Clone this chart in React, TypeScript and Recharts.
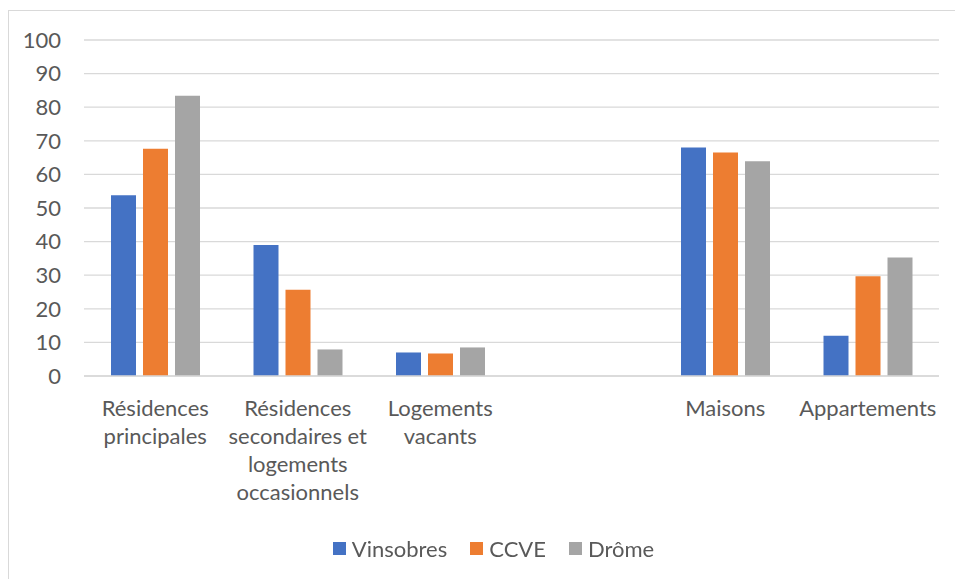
import React from "react";
import { BarChart, Bar, XAxis, YAxis, CartesianGrid, Legend } from "recharts";

const categories = [
  "Résidences principales",
  "Résidences secondaires et logements occasionnels",
  "Logements vacants",
  "",
  "Maisons",
  "Appartements",
];
const tickLines: string[][] = [
  ["Résidences", "principales"],
  ["Résidences", "secondaires et", "logements", "occasionnels"],
  ["Logements", "vacants"],
  [],
  ["Maisons"],
  ["Appartements"],
];
const vinsobres: (number | null)[] = [53.8, 39.0, 7.0, null, 68.0, 12.0];
const ccve: (number | null)[] = [67.6, 25.7, 6.7, null, 66.5, 29.7];
const drome: (number | null)[] = [83.4, 7.9, 8.5, null, 63.9, 35.3];
const yTicks = [0, 10, 20, 30, 40, 50, 60, 70, 80, 90, 100];

const seriesInfo = [
  { key: "Vinsobres", color: "#4472C4" },
  { key: "CCVE", color: "#ED7D31" },
  { key: "Drôme", color: "#A5A5A5" },
];

const data = categories.map((c, i) => ({
  name: c,
  Vinsobres: vinsobres[i],
  CCVE: ccve[i],
  "Drôme": drome[i],
}));

const FONT = "Lato, 'Open Sans', sans-serif";
const TEXT = "#595959";

const XTick = (props: any) => {
  const { x, y, index } = props;
  const lines = tickLines[index] || [];
  return (
    <text
      x={x}
      y={y}
      textAnchor="middle"
      fill={TEXT}
      fontFamily={FONT}
      fontSize={22}
    >
      {lines.map((l, i) => (
        <tspan key={i} x={x} y={y + 39.5 + i * 28}>
          {l}
        </tspan>
      ))}
    </text>
  );
};

const LegendContent = () => (
  <div
    style={{
      height: 30,
      display: "flex",
      justifyContent: "center",
      alignItems: "center",
      paddingLeft: 48,
      fontFamily: FONT,
      fontSize: 22,
      color: TEXT,
    }}
  >
    {seriesInfo.map((s, i) => (
      <div
        key={s.key}
        style={{
          display: "flex",
          alignItems: "center",
          marginLeft: i === 0 ? 0 : 23,
        }}
      >
        <div
          style={{ width: 13, height: 13, background: s.color, marginRight: 6 }}
        />
        <span>{s.key}</span>
      </div>
    ))}
  </div>
);

export default function App() {
  return (
    <div>
      <div
        style={{
          position: "fixed",
          left: 8,
          top: 10,
          width: 1200,
          height: 1200,
          borderLeft: "1px solid #d9d9d9",
          borderTop: "1px solid #d9d9d9",
          background: "#fff",
        }}
      />
      <div style={{ position: "fixed", left: 0, top: 0, width: 955, height: 579 }}>
        <BarChart
          width={955}
          height={579}
          data={data}
          margin={{ top: 40, right: 16, bottom: 16, left: 0 }}
          barSize={25}
          barGap={7}
        >
          <CartesianGrid
            horizontal={true}
            vertical={false}
            stroke="#d9d9d9"
            strokeWidth={1.3}
          />
          <XAxis
            dataKey="name"
            axisLine={{ stroke: "#d9d9d9", strokeWidth: 1.3 }}
            tickLine={false}
            tickSize={0}
            tickMargin={0}
            height={157}
            interval={0}
            tick={<XTick />}
          />
          <YAxis
            domain={[0, 100]}
            ticks={yTicks}
            width={84}
            axisLine={false}
            tickLine={false}
            tickSize={0}
            tickMargin={23}
            interval={0}
            tick={{ fill: TEXT, fontFamily: FONT, fontSize: 22 }}
          />
          <Legend verticalAlign="bottom" content={<LegendContent />} />
          {seriesInfo.map((s) => (
            <Bar
              key={s.key}
              dataKey={s.key}
              fill={s.color}
              isAnimationActive={false}
            />
          ))}
        </BarChart>
      </div>
    </div>
  );
}
